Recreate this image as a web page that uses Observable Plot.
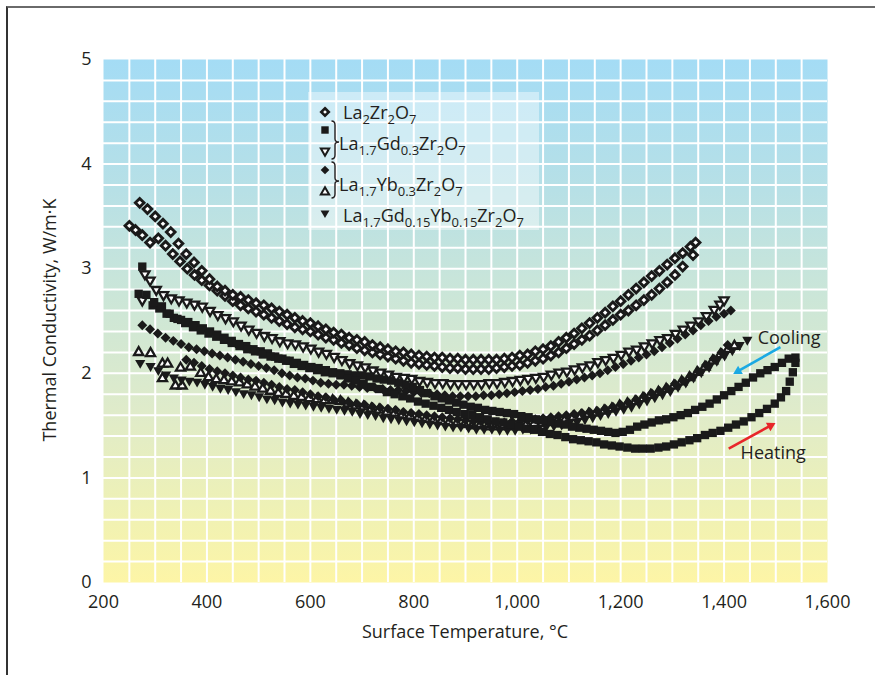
<!DOCTYPE html>
<html>
<head>
<meta charset="utf-8">
<script src="https://cdn.jsdelivr.net/npm/d3@7"></script>
<script src="https://cdn.jsdelivr.net/npm/@observablehq/plot@0.6"></script>
<style>
  body { margin: 0; background: #fff; }
  #wrap { position: relative; width: 875px; height: 675px; overflow: hidden; font-family: "Open Sans", sans-serif; }
  #border { position: absolute; left: 6px; top: 6px; width: 900px; height: 700px; border-top: 2px solid #6a6a6a; border-left: 2px solid #333; box-sizing: border-box; }
  #chart svg, #overlay { position: absolute; left: 0; top: 0; }
</style>
</head>
<body>
<div id="wrap">
  <svg width="0" height="0" style="position:absolute">
    <defs>
      <linearGradient id="bgGrad" x1="0" y1="0" x2="0" y2="1">
        <stop offset="0" stop-color="#a4dcf5"/>
        <stop offset="0.25" stop-color="#b7e0e6"/>
        <stop offset="0.45" stop-color="#cbe6d8"/>
        <stop offset="0.67" stop-color="#dfebca"/>
        <stop offset="0.85" stop-color="#eef1b6"/>
        <stop offset="1" stop-color="#fdf5a6"/>
      </linearGradient>
    </defs>
  </svg>
  <div id="border"></div>
  <div id="chart"></div>
</div>
<script>
// ---------- axes ----------
const xTicks = [200, 400, 600, 800, 1000, 1200, 1400, 1600];
const yTicks = [0, 1, 2, 3, 4, 5];
const xTitle = "Surface Temperature, °C";
const yTitle = "Thermal Conductivity, W/m·K";

// ---------- series: [temperature °C, conductivity W/m·K] ----------
// La2Zr2O7 (open diamonds), upper branch
const la2zr2o7Upper = [[270,3.63],[285,3.57],[300,3.5],[315,3.43],[330,3.35],[345,3.24],[360,3.14],[375,3.06],[390,2.98],[405,2.9],[420,2.83],[435,2.79],[450,2.75],[465,2.73],[480,2.7],[495,2.67],[510,2.65],[525,2.62],[540,2.59],[555,2.56],[570,2.53],[585,2.5],[600,2.48],[615,2.45],[630,2.42],[645,2.39],[660,2.37],[675,2.34],[690,2.32],[705,2.3],[720,2.27],[735,2.25],[750,2.23],[765,2.21],[780,2.2],[795,2.18],[810,2.17],[825,2.16],[840,2.15],[855,2.15],[870,2.14],[885,2.14],[900,2.13],[915,2.13],[930,2.13],[945,2.13],[960,2.13],[975,2.14],[990,2.15],[1005,2.17],[1020,2.18],[1035,2.21],[1050,2.23],[1065,2.26],[1080,2.3],[1095,2.34],[1110,2.38],[1125,2.43],[1140,2.48],[1155,2.53],[1170,2.58],[1185,2.64],[1200,2.69],[1215,2.75],[1230,2.81],[1245,2.87],[1260,2.93],[1275,2.98],[1290,3.04],[1305,3.1],[1320,3.15],[1335,3.21],[1345,3.25]];
// La2Zr2O7 (open diamonds), lower branch
const la2zr2o7Lower = [[250,3.41],[262,3.37],[275,3.32],[290,3.25],[306,3.29],[320,3.22],[334,3.14],[348,3.07],[362,3.0],[376,2.94],[390,2.89],[405,2.84],[420,2.79],[435,2.74],[450,2.69],[465,2.65],[480,2.62],[495,2.59],[510,2.56],[525,2.53],[540,2.5],[555,2.47],[570,2.44],[585,2.42],[600,2.4],[615,2.37],[630,2.34],[645,2.32],[660,2.29],[675,2.27],[690,2.24],[705,2.22],[720,2.2],[735,2.18],[750,2.16],[765,2.14],[780,2.12],[795,2.1],[810,2.09],[825,2.08],[840,2.07],[855,2.06],[870,2.05],[885,2.05],[900,2.04],[915,2.04],[930,2.04],[945,2.04],[960,2.05],[975,2.06],[990,2.07],[1005,2.08],[1020,2.1],[1035,2.12],[1050,2.14],[1065,2.17],[1080,2.2],[1095,2.24],[1110,2.28],[1125,2.32],[1140,2.36],[1155,2.41],[1170,2.46],[1185,2.51],[1200,2.56],[1215,2.6],[1230,2.65],[1245,2.7],[1260,2.75],[1275,2.81],[1290,2.87],[1305,2.94],[1320,3.02],[1340,3.13]];
// La1.7Gd0.3Zr2O7 (filled squares), heating
const gdSquareHeat = [[275,3.02],[268,2.76],[283,2.75],[298,2.68],[313,2.64],[328,2.57],[343,2.52],[358,2.48],[373,2.44],[388,2.41],[403,2.38],[418,2.35],[433,2.32],[448,2.29],[463,2.26],[478,2.23],[493,2.21],[508,2.18],[523,2.16],[538,2.14],[553,2.12],[568,2.09],[583,2.07],[598,2.05],[613,2.03],[628,2.01],[643,2.0],[658,1.98],[673,1.95],[688,1.93],[703,1.9],[718,1.87],[733,1.85],[748,1.82],[763,1.8],[778,1.78],[793,1.76],[808,1.73],[823,1.71],[838,1.69],[853,1.67],[868,1.65],[883,1.63],[898,1.61],[913,1.6],[928,1.58],[943,1.56],[958,1.54],[973,1.53],[988,1.51],[1003,1.49],[1018,1.47],[1033,1.46],[1048,1.44],[1063,1.42],[1078,1.41],[1093,1.39],[1108,1.37],[1123,1.36],[1138,1.35],[1153,1.34],[1168,1.32],[1183,1.31],[1198,1.3],[1213,1.29],[1228,1.28],[1243,1.28],[1258,1.28],[1273,1.29],[1288,1.3],[1303,1.32],[1318,1.34],[1333,1.36],[1348,1.38],[1363,1.41],[1378,1.43],[1393,1.45],[1408,1.48],[1423,1.51],[1438,1.54],[1453,1.58],[1468,1.62],[1483,1.66],[1498,1.71],[1510,1.77],[1520,1.83],[1527,1.92],[1533,2.01],[1538,2.1]];
// La1.7Gd0.3Zr2O7 (filled squares), cooling
const gdSquareCool = [[1538,2.15],[1525,2.14],[1512,2.1],[1498,2.06],[1484,2.03],[1470,2.0],[1456,1.96],[1442,1.91],[1428,1.87],[1414,1.83],[1400,1.79],[1386,1.75],[1372,1.71],[1358,1.68],[1344,1.65],[1330,1.62],[1316,1.6],[1302,1.58],[1288,1.56],[1274,1.55],[1260,1.53],[1246,1.51],[1232,1.49],[1218,1.46],[1204,1.44],[1190,1.43],[1176,1.44],[1162,1.45],[1148,1.46],[1134,1.47],[1120,1.48],[1106,1.49],[1092,1.51],[1078,1.52],[1064,1.54],[1050,1.55],[1036,1.56],[1022,1.58],[1008,1.59],[994,1.61],[980,1.62],[966,1.63],[952,1.64],[938,1.65],[924,1.67],[910,1.68],[896,1.7],[882,1.72],[868,1.74],[854,1.76],[840,1.78],[826,1.81],[812,1.84],[798,1.87],[784,1.89],[770,1.91],[756,1.93],[742,1.94],[728,1.95],[714,1.97],[700,1.98],[686,1.98],[672,1.99],[658,2.0],[644,2.01],[630,2.03],[616,2.05],[602,2.06],[588,2.08],[574,2.1],[560,2.12],[546,2.14],[532,2.16],[518,2.19],[504,2.21],[490,2.23],[476,2.26],[462,2.28],[448,2.31],[434,2.34],[420,2.37],[406,2.4],[392,2.43],[378,2.46],[364,2.49],[350,2.51],[336,2.53],[322,2.57],[308,2.62],[295,2.65]];
// La1.7Gd0.3Zr2O7 (open down-triangles)
const gdTriangle = [[280,2.95],[290,2.89],[275,2.7],[302,2.8],[316,2.75],[331,2.72],[346,2.7],[361,2.68],[376,2.66],[391,2.64],[406,2.6],[421,2.56],[436,2.53],[451,2.5],[466,2.46],[481,2.42],[496,2.39],[511,2.36],[526,2.34],[541,2.31],[556,2.29],[571,2.28],[586,2.26],[601,2.24],[616,2.21],[631,2.19],[646,2.16],[661,2.13],[676,2.1],[691,2.08],[706,2.06],[721,2.03],[736,2.01],[751,1.99],[766,1.97],[781,1.96],[796,1.95],[811,1.93],[826,1.92],[841,1.91],[856,1.91],[871,1.9],[886,1.9],[901,1.9],[916,1.9],[931,1.9],[946,1.91],[961,1.91],[976,1.92],[991,1.93],[1006,1.94],[1021,1.95],[1036,1.96],[1051,1.97],[1066,1.99],[1081,2.01],[1096,2.02],[1111,2.04],[1126,2.06],[1141,2.08],[1156,2.11],[1171,2.13],[1186,2.15],[1201,2.18],[1216,2.21],[1231,2.23],[1246,2.26],[1261,2.29],[1276,2.32],[1291,2.34],[1306,2.38],[1321,2.42],[1336,2.46],[1351,2.5],[1366,2.55],[1381,2.61],[1392,2.66],[1400,2.7]];
// La1.7Yb0.3Zr2O7 (filled diamonds), branch A
const ybDiamondA = [[275,2.46],[290,2.42],[305,2.38],[320,2.34],[335,2.31],[350,2.28],[365,2.25],[380,2.23],[395,2.21],[410,2.19],[425,2.17],[440,2.15],[455,2.13],[470,2.11],[485,2.09],[500,2.07],[515,2.05],[530,2.03],[545,2.0],[560,1.98],[575,1.96],[590,1.95],[605,1.93],[620,1.91],[635,1.9],[650,1.89],[665,1.89],[680,1.88],[695,1.87],[710,1.86],[725,1.86],[740,1.85],[755,1.84],[770,1.84],[785,1.83],[800,1.82],[815,1.81],[830,1.81],[845,1.8],[860,1.79],[875,1.78],[890,1.78],[905,1.78],[920,1.78],[935,1.79],[950,1.79],[965,1.8],[980,1.81],[995,1.82],[1010,1.83],[1025,1.84],[1040,1.85],[1055,1.87],[1070,1.88],[1085,1.9],[1100,1.92],[1115,1.94],[1130,1.96],[1145,1.98],[1160,2.0],[1175,2.03],[1190,2.06],[1205,2.09],[1220,2.12],[1235,2.15],[1250,2.18],[1265,2.21],[1280,2.25],[1295,2.29],[1310,2.33],[1325,2.37],[1340,2.41],[1355,2.46],[1370,2.5],[1385,2.54],[1400,2.57],[1413,2.6]];
// La1.7Yb0.3Zr2O7 (filled diamonds), branch B
const ybDiamondB = [[360,2.13],[375,2.1],[390,2.07],[405,2.04],[420,2.02],[435,2.0],[450,1.98],[465,1.96],[480,1.94],[495,1.93],[510,1.91],[525,1.89],[540,1.87],[555,1.85],[570,1.84],[585,1.82],[600,1.8],[615,1.78],[630,1.77],[645,1.75],[660,1.74],[675,1.72],[690,1.71],[705,1.7],[720,1.68],[735,1.67],[750,1.66],[765,1.65],[780,1.63],[795,1.62],[810,1.61],[825,1.6],[840,1.59],[855,1.58],[870,1.57],[885,1.56],[900,1.55],[915,1.54],[930,1.54],[945,1.53],[960,1.53],[975,1.53],[990,1.54],[1005,1.54],[1020,1.55],[1035,1.56],[1050,1.57],[1065,1.58],[1080,1.59],[1095,1.6],[1110,1.61],[1125,1.62],[1140,1.63],[1155,1.64],[1170,1.66],[1185,1.68],[1200,1.7],[1215,1.72],[1230,1.75],[1245,1.78],[1260,1.81],[1275,1.83],[1290,1.86],[1305,1.9],[1320,1.93],[1335,1.97],[1350,2.02],[1365,2.08],[1380,2.14],[1395,2.2],[1407,2.27]];
// La1.7Yb0.3Zr2O7 (open up-triangles)
const ybTriangle = [[268,2.2],[291,2.19],[314,2.09],[324,2.09],[314,1.95],[339,1.88],[352,1.88],[349,2.05],[368,2.06],[388,2.0],[403,1.96],[418,1.94],[433,1.93],[448,1.92],[463,1.91],[478,1.89],[493,1.87],[508,1.85],[523,1.83],[538,1.81],[553,1.8],[568,1.78],[583,1.77],[598,1.76],[613,1.75],[628,1.74],[643,1.74],[658,1.73],[673,1.71],[688,1.69],[703,1.68],[718,1.66],[733,1.65],[748,1.63],[763,1.62],[778,1.6],[793,1.59],[808,1.57],[823,1.56],[838,1.55],[853,1.54],[868,1.53],[883,1.52],[898,1.51],[913,1.5],[928,1.5],[943,1.49],[958,1.49],[973,1.49],[988,1.49],[1003,1.5],[1018,1.51],[1033,1.52],[1048,1.52],[1063,1.53],[1078,1.55],[1093,1.56],[1108,1.58],[1123,1.59],[1138,1.61],[1153,1.62],[1168,1.64],[1183,1.66],[1198,1.69],[1213,1.71],[1228,1.73],[1243,1.76],[1258,1.79],[1273,1.82],[1288,1.85],[1303,1.88],[1318,1.92],[1333,1.96],[1348,2.01],[1363,2.06],[1378,2.12],[1393,2.18],[1408,2.23],[1420,2.26]];
// La1.7Gd0.15Yb0.15Zr2O7 (filled down-triangles)
const gdybTriangle = [[271,2.1],[291,2.07],[306,2.03],[321,1.99],[336,1.96],[351,1.94],[366,1.93],[381,1.92],[396,1.9],[411,1.88],[426,1.86],[441,1.85],[456,1.83],[471,1.81],[486,1.8],[501,1.78],[516,1.76],[531,1.75],[546,1.73],[561,1.72],[576,1.71],[591,1.7],[606,1.69],[621,1.68],[636,1.67],[651,1.66],[666,1.65],[681,1.64],[696,1.62],[711,1.61],[726,1.6],[741,1.58],[756,1.57],[771,1.56],[786,1.55],[801,1.54],[816,1.53],[831,1.52],[846,1.51],[861,1.5],[876,1.49],[891,1.49],[906,1.48],[921,1.47],[936,1.47],[951,1.47],[966,1.46],[981,1.46],[996,1.46],[1011,1.47],[1026,1.47],[1041,1.48],[1056,1.49],[1071,1.5],[1086,1.51],[1101,1.53],[1116,1.54],[1131,1.56],[1146,1.58],[1161,1.6],[1176,1.62],[1191,1.64],[1206,1.66],[1221,1.68],[1236,1.71],[1251,1.74],[1266,1.77],[1281,1.8],[1296,1.83],[1311,1.87],[1326,1.91],[1341,1.96],[1356,2.01],[1371,2.06],[1386,2.12],[1401,2.17],[1416,2.22],[1430,2.27],[1445,2.32]];

// ---------- annotations ----------
const noteText = ["Cooling", "Heating"];
const noteT = [1465, 1432];
const noteK = [2.34, 1.24];
const arrowFromT = [1509, 1409];
const arrowFromK = [2.25, 1.28];
const arrowToT = [1427, 1490];
const arrowToK = [2.02, 1.5];

// ---------- legend ----------
const legendLabels = [
  [["La",0],["2",1],["Zr",0],["2",1],["O",0],["7",1]],
  [["La",0],["1.7",1],["Gd",0],["0.3",1],["Zr",0],["2",1],["O",0],["7",1]],
  [["La",0],["1.7",1],["Yb",0],["0.3",1],["Zr",0],["2",1],["O",0],["7",1]],
  [["La",0],["1.7",1],["Gd",0],["0.15",1],["Yb",0],["0.15",1],["Zr",0],["2",1],["O",0],["7",1]]
];

const toRows = (arr) => arr.map(([t, k]) => ({t, k}));
const notes = noteText.map((s, i) => ({s, t: noteT[i], k: noteK[i], t1: arrowFromT[i], k1: arrowFromK[i], t2: arrowToT[i], k2: arrowToK[i]}));

const ink = "#1a1a1a";
const openStyle = {fill: "white", stroke: ink, strokeWidth: 2.9};
const dotsOf = (arr, opts) => Plot.dot(toRows(arr), {x: "t", y: "k", ...opts});

const chart = Plot.plot({
  width: 875,
  height: 675,
  marginLeft: 103,
  marginRight: 48,
  marginTop: 59,
  marginBottom: 93,
  style: {fontFamily: "'Open Sans', sans-serif", fontSize: "18px", color: "#231f20", background: "transparent", overflow: "visible"},
  x: {domain: [200, 1600], ticks: xTicks, tickFormat: d3.format(","), tickSize: 0, tickPadding: 13, label: null},
  y: {domain: [0, 5], ticks: yTicks, tickFormat: d3.format("d"), tickSize: 0, tickPadding: 12, label: null},
  marks: [
    Plot.frame({fill: "url(#bgGrad)", stroke: "none"}),
    Plot.ruleX(d3.range(250, 1600, 50), {stroke: "white", strokeWidth: 2}),
    Plot.ruleY(d3.range(1, 25).map(i => i / 5), {stroke: "white", strokeWidth: 2}),
    dotsOf(la2zr2o7Lower, {symbol: "diamond2", r: 3.9, ...openStyle}),
    dotsOf(la2zr2o7Upper, {symbol: "diamond2", r: 3.9, ...openStyle}),
    dotsOf(gdTriangle, {symbol: "triangle", r: 3.4, rotate: 180, ...openStyle, strokeWidth: 2.3}),
    dotsOf(ybTriangle, {symbol: "triangle", r: 3.4, ...openStyle, strokeWidth: 2.3}),
    dotsOf(gdybTriangle, {symbol: "triangle", r: 3.8, rotate: 180, fill: ink}),
    dotsOf(ybDiamondA, {symbol: "diamond2", r: 4.5, fill: ink}),
    dotsOf(ybDiamondB, {symbol: "diamond2", r: 4.5, fill: ink}),
    dotsOf(gdSquareCool, {symbol: "square", r: 4.7, fill: ink}),
    dotsOf(gdSquareHeat, {symbol: "square", r: 4.7, fill: ink}),
    Plot.link(notes, {x1: "t1", y1: "k1", x2: "t2", y2: "k2", stroke: (d, i) => i, strokeWidth: 2.6}),
    Plot.dot(notes.slice(0, 1), {x: "t2", y: "k2", symbol: "triangle2", r: 4.6, fill: "#1aa9e3", rotate: 241}),
    Plot.dot(notes.slice(1, 2), {x: "t2", y: "k2", symbol: "triangle2", r: 4.6, fill: "#e8262a", rotate: 62}),
    Plot.text(notes, {x: "t", y: "k", text: "s", textAnchor: "start", fill: "#231f20", fontSize: 18})
  ],
  color: {type: "ordinal", domain: [0, 1], range: ["#1aa9e3", "#e8262a"]}
});
document.getElementById("chart").appendChild(chart);

// ---------- overlay: titles + legend ----------
const ov = d3.select("#wrap").append("svg").attr("id", "overlay").attr("width", 875).attr("height", 675)
  .style("font-family", "'Open Sans', sans-serif").style("pointer-events", "none");

ov.append("text").attr("x", 465).attr("y", 638).attr("text-anchor", "middle")
  .attr("font-size", 18).attr("fill", "#231f20").text(xTitle);
ov.append("text").attr("transform", "translate(56,320) rotate(-90)").attr("text-anchor", "middle")
  .attr("font-size", 18).attr("fill", "#231f20").text(yTitle);

// legend box
ov.append("rect").attr("x", 308).attr("y", 92).attr("width", 231).attr("height", 138)
  .attr("fill", "white").attr("fill-opacity", 0.42);

// legend symbols
const sym = (type, size) => d3.symbol(type, size)();
const lg = ov.append("g");
const symbolSpecs = [
  {y: 112, type: d3.symbolDiamond2, size: 36, fill: "white", stroke: ink, sw: 2.6, rot: 0},
  {y: 130, type: d3.symbolSquare, size: 55, fill: ink, stroke: "none", sw: 0, rot: 0},
  {y: 151, type: d3.symbolTriangle, size: 30, fill: "white", stroke: ink, sw: 2, rot: 180},
  {y: 170, type: d3.symbolDiamond2, size: 48, fill: ink, stroke: "none", sw: 0, rot: 0},
  {y: 192, type: d3.symbolTriangle, size: 30, fill: "white", stroke: ink, sw: 2, rot: 0},
  {y: 213, type: d3.symbolTriangle, size: 34, fill: ink, stroke: "none", sw: 0, rot: 180}
];
symbolSpecs.forEach(s => {
  lg.append("path").attr("d", sym(s.type, s.size))
    .attr("transform", `translate(325,${s.y}) rotate(${s.rot})`)
    .attr("fill", s.fill).attr("stroke", s.stroke).attr("stroke-width", s.sw);
});
// braces
const brace = (y0, y1, ym) => {
  const x0 = 331.5, x1 = 335, x2 = 339;
  return `M${x0},${y0} Q${x1},${y0} ${x1},${y0 + 4} L${x1},${ym - 3} Q${x1},${ym} ${x2},${ym} Q${x1},${ym} ${x1},${ym + 3} L${x1},${y1 - 4} Q${x1},${y1} ${x0},${y1}`;
};
lg.append("path").attr("d", brace(121, 159, 142)).attr("fill", "none").attr("stroke", "#231f20").attr("stroke-width", 1.4);
lg.append("path").attr("d", brace(162, 198, 181)).attr("fill", "none").attr("stroke", "#231f20").attr("stroke-width", 1.4);

// legend text
const textX = [343, 339, 339, 343];
const textY = [119, 150, 191, 222];
legendLabels.forEach((parts, i) => {
  const t = lg.append("text").attr("x", textX[i]).attr("y", textY[i]).attr("font-size", 18).attr("fill", "#231f20");
  let sub = 0;
  parts.forEach(([s, isSub]) => {
    const ts = t.append("tspan").text(s);
    if (isSub && !sub) { ts.attr("dy", 5).attr("font-size", 13); sub = 1; }
    else if (isSub) { ts.attr("font-size", 13); }
    else if (!isSub && sub) { ts.attr("dy", -5); sub = 0; }
  });
});
</script>
</body>
</html>
